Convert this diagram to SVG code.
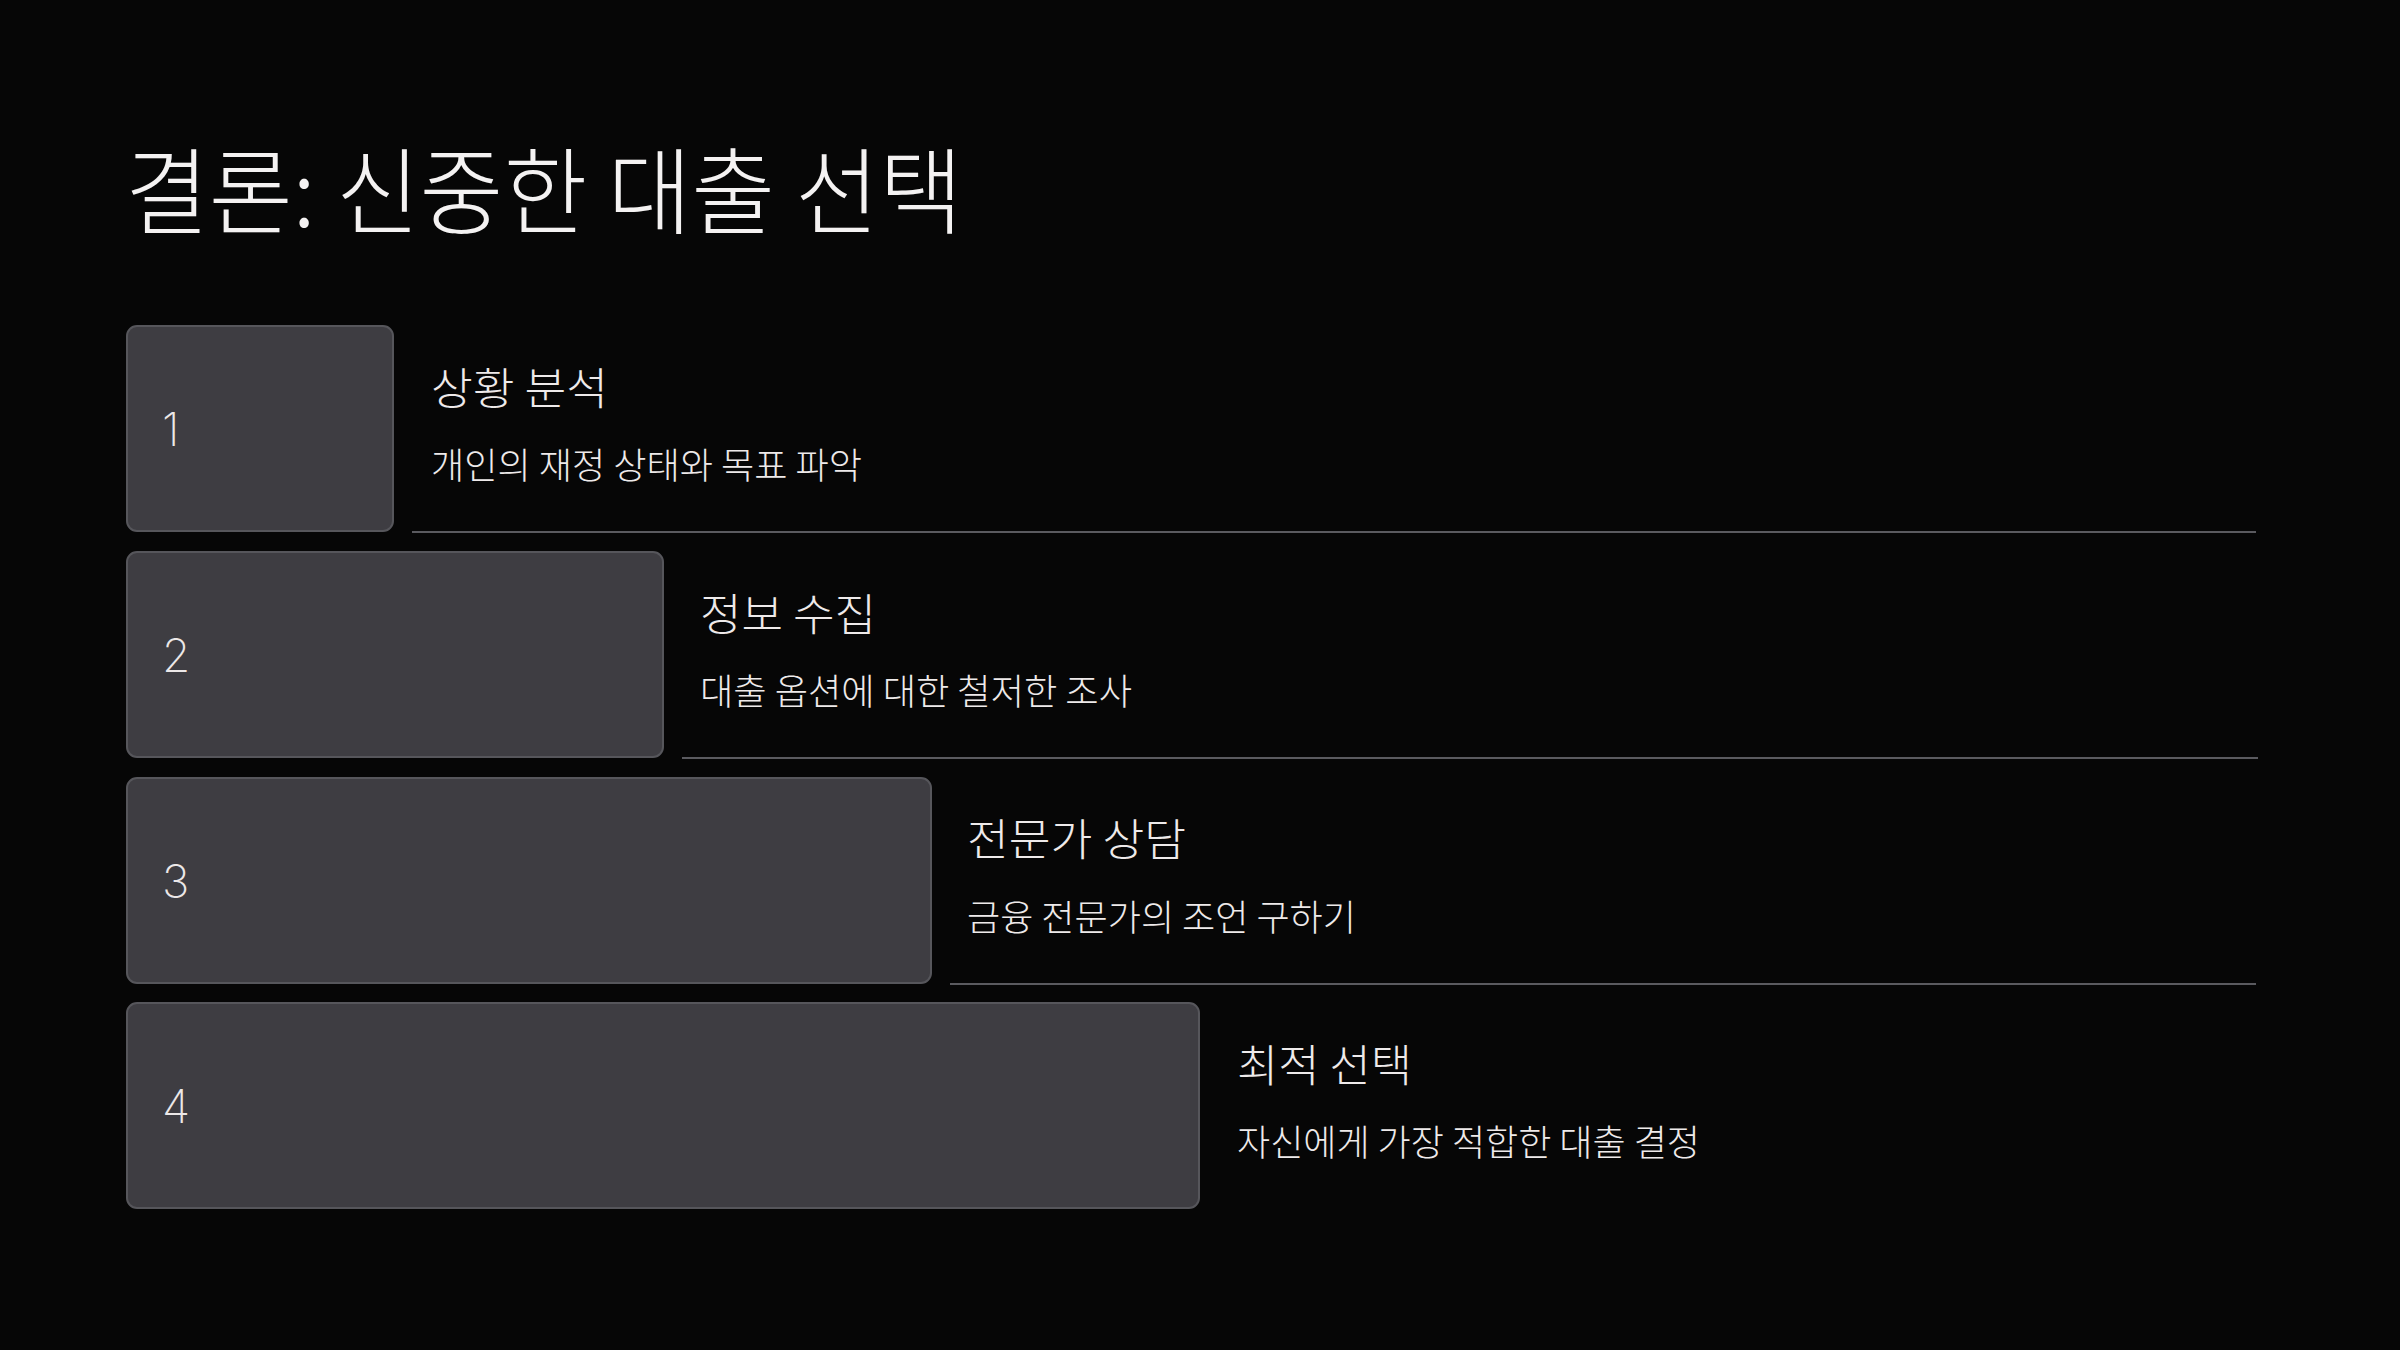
<svg xmlns="http://www.w3.org/2000/svg" width="2400" height="1350" viewBox="0 0 2400 1350">
<style>
.bg{fill:#060606}
.box{fill:#3e3d42;stroke:#56565b;stroke-width:2}
.sep{stroke:#5a5a5f;stroke-width:2}
.title{font-family:"Noto Sans CJK KR","Noto Sans",sans-serif;font-weight:300;font-size:94px;fill:#f4f2f2}
.num{font-family:Inter,"Liberation Sans",sans-serif;font-weight:200;font-size:46px;fill:#ece8e8}
.head{font-family:"Noto Sans CJK KR","Noto Sans",sans-serif;font-weight:300;font-size:44px;fill:#eeeaea}
.desc{font-family:"Noto Sans CJK KR","Noto Sans",sans-serif;font-weight:300;font-size:36px;fill:#eeeaea}
</style>
<rect class="bg" x="0" y="0" width="2400" height="1350"/>
<text class="title" x="125" y="227" textLength="838" lengthAdjust="spacingAndGlyphs">결론: 신중한 대출 선택</text>
<g id="connectors">
<line class="sep" x1="412" y1="532" x2="2256" y2="532"/>
<line class="sep" x1="682" y1="758" x2="2258" y2="758"/>
<line class="sep" x1="950" y1="984" x2="2256" y2="984"/>
</g>
<g id="step1">
<rect class="box" x="127" y="326" width="266" height="205" rx="10"/>
<text class="num" x="162" y="446">1</text>
<text class="head" x="431" y="405" textLength="177" lengthAdjust="spacingAndGlyphs">상황 분석</text>
<text class="desc" x="431" y="479" textLength="431" lengthAdjust="spacingAndGlyphs">개인의 재정 상태와 목표 파악</text>
</g>
<g id="step2">
<rect class="box" x="127" y="552" width="536" height="205" rx="10"/>
<text class="num" x="162" y="672">2</text>
<text class="head" x="700" y="631" textLength="176" lengthAdjust="spacingAndGlyphs">정보 수집</text>
<text class="desc" x="700" y="705" textLength="432" lengthAdjust="spacingAndGlyphs">대출 옵션에 대한 철저한 조사</text>
</g>
<g id="step3">
<rect class="box" x="127" y="778" width="804" height="205" rx="10"/>
<text class="num" x="162" y="898">3</text>
<text class="head" x="967" y="856" textLength="219" lengthAdjust="spacingAndGlyphs">전문가 상담</text>
<text class="desc" x="967" y="931" textLength="389" lengthAdjust="spacingAndGlyphs">금융 전문가의 조언 구하기</text>
</g>
<g id="step4">
<rect class="box" x="127" y="1003" width="1072" height="205" rx="10"/>
<text class="num" x="162" y="1123">4</text>
<text class="head" x="1237" y="1082" textLength="175" lengthAdjust="spacingAndGlyphs">최적 선택</text>
<text class="desc" x="1237" y="1156" textLength="463" lengthAdjust="spacingAndGlyphs">자신에게 가장 적합한 대출 결정</text>
</g>
</svg>
